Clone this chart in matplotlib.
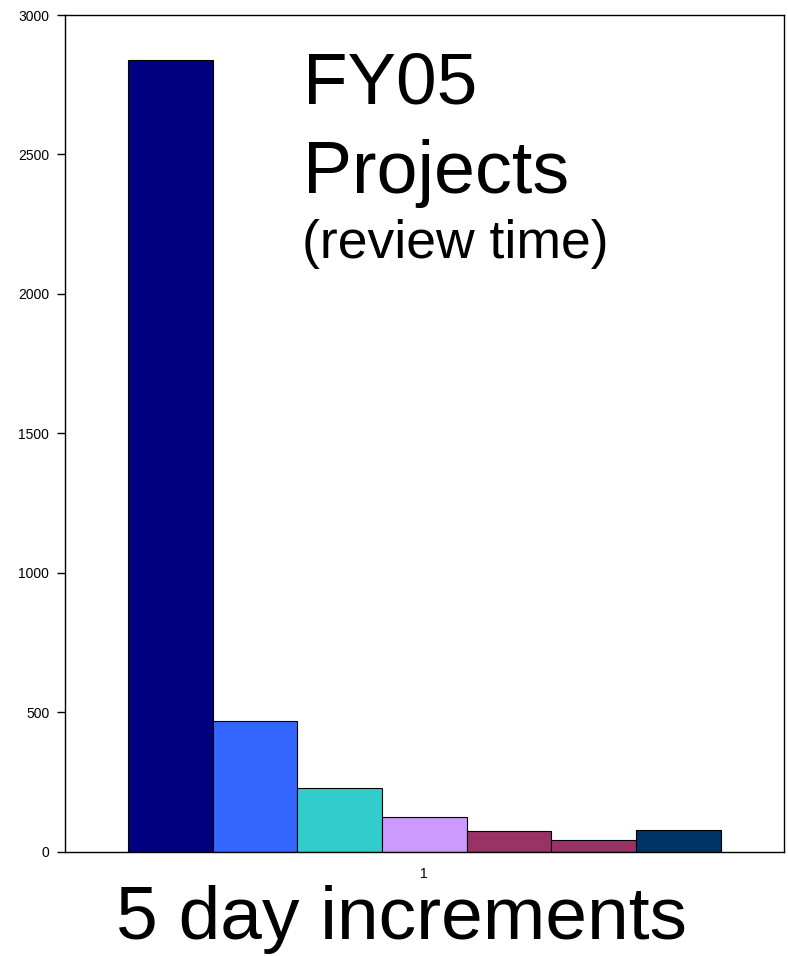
import matplotlib.pyplot as plt
import numpy as np

plt.rcParams['font.family'] = ['Liberation Sans', 'DejaVu Sans']

# data
category = [1]
values = [2840, 469, 227, 124, 75, 40, 78]
colours = ['#000080', '#3366FF', '#33CCCC', '#CC99FF', '#993366', '#993366', '#003366']
yticks = [0, 500, 1000, 1500, 2000, 2500, 3000]

fig = plt.figure(figsize=(7.88, 9.56), dpi=100)
ax = fig.add_axes([0.0819, 0.1093, 0.9131, 0.875])

# excel style clustered bars, gap width 150%
n = len(values)
w = 1.0 / (n + 1.5)
offsets = (np.arange(n) - (n - 1) / 2) * w
for off, val, col in zip(offsets, values, colours):
    ax.bar(category[0] + off, val, width=w, color=col, edgecolor='black', linewidth=0.8)

ax.set_xlim(0.5, 1.5)
ax.set_ylim(0, 3000)
ax.set_yticks(yticks)
ax.set_xticks(category)
ax.tick_params(axis='y', length=6, width=1, labelsize=10, pad=5)
ax.tick_params(axis='x', length=0, labelsize=10, pad=11)
for sp in ax.spines.values():
    sp.set_linewidth(1)
    sp.set_color('black')

# titles inside the chart
fig.text(303 / 788, 1 - 104 / 956, 'FY05', fontsize=52.5, ha='left', va='baseline')
fig.text(303 / 788, 1 - 193 / 956, 'Projects', fontsize=53, ha='left', va='baseline')
fig.text(302 / 788, 1 - 258 / 956, '(review time)', fontsize=38.5, ha='left', va='baseline')
fig.text(401 / 788, 1 - 939 / 956, '5 day increments', fontsize=54, ha='center', va='baseline')

fig.savefig('out.png', dpi=100)
